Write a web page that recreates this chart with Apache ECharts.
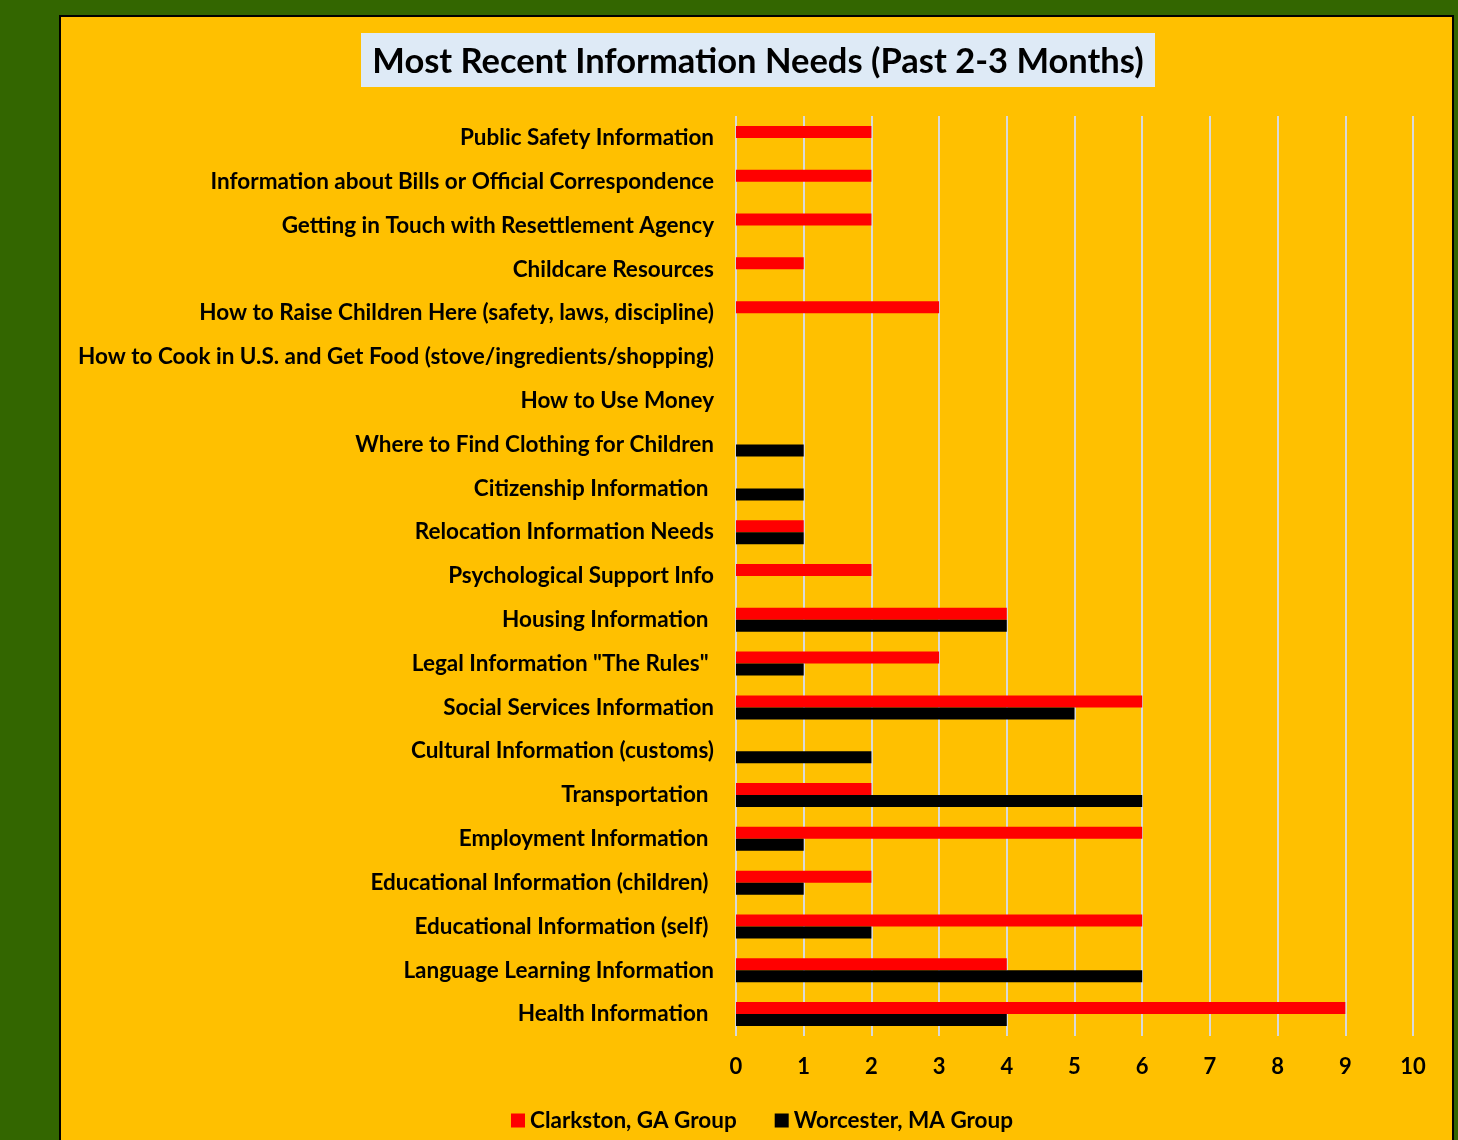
<!DOCTYPE html>
<html>
<head>
<meta charset="utf-8">
<script src="https://cdn.jsdelivr.net/npm/echarts@6/dist/echarts.min.js"></script>
<style>
  html, body { margin: 0; padding: 0; background: #336600; }
  #chart { width: 1458px; height: 1140px; }
</style>
</head>
<body>
<div id="chart"></div>
<script>
// categories listed bottom to top (ECharts category y axis starts at the bottom)
var categories = [
  "Health Information ",
  "Language Learning Information",
  "Educational Information (self) ",
  "Educational Information (children) ",
  "Employment Information ",
  "Transportation ",
  "Cultural Information (customs)",
  "Social Services Information",
  "Legal Information \"The Rules\" ",
  "Housing Information ",
  "Psychological Support Info",
  "Relocation Information Needs",
  "Citizenship Information ",
  "Where to Find Clothing for Children",
  "How to Use Money",
  "How to Cook in U.S. and Get Food (stove/ingredients/shopping)",
  "How to Raise Children Here (safety, laws, discipline)",
  "Childcare Resources",
  "Getting in Touch with Resettlement Agency",
  "Information about Bills or Official Correspondence",
  "Public Safety Information"
];
var clarkston = [9, 4, 6, 2, 6, 2, 0, 6, 3, 4, 2, 1, 0, 0, 0, 0, 3, 1, 2, 2, 2];
var worcester = [4, 6, 2, 1, 1, 6, 2, 5, 1, 4, 0, 1, 1, 1, 0, 0, 0, 0, 0, 0, 0];
var xTicks = [0, 1, 2, 3, 4, 5, 6, 7, 8, 9, 10];

var font = "Lato";
var chart = echarts.init(document.getElementById("chart"));
chart.setOption({
  backgroundColor: "#336600",
  animation: false,
  graphic: [
    {
      type: "rect",
      z: -10,
      shape: { x: 60, y: 16, width: 1393, height: 1140 },
      style: { fill: "#FFC000", stroke: "#000", lineWidth: 2 }
    },
    {
      type: "rect",
      z: -5,
      shape: { x: 361, y: 33, width: 794, height: 54 },
      style: { fill: "#DEEAF6" }
    },
    {
      type: "text",
      x: 758,
      y: 62,
      style: {
        text: "Most Recent Information Needs (Past 2-3 Months)",
        fill: "#000",
        font: "bold 34.5px " + font,
        textAlign: "center",
        textVerticalAlign: "middle"
      }
    }
  ],
  legend: {
    bottom: 3,
    left: 506,
    itemWidth: 14,
    itemHeight: 14,
    itemGap: 38,
    icon: "rect",
    textStyle: { fontFamily: font, fontWeight: "bold", fontSize: 22.5, color: "#000" },
    data: ["Clarkston, GA Group", "Worcester, MA Group"]
  },
  grid: { left: 736, right: 45, top: 116, bottom: 104 },
  xAxis: {
    type: "value",
    min: xTicks[0],
    max: xTicks[xTicks.length - 1],
    interval: 1,
    axisLine: { show: false },
    axisTick: { show: false },
    axisLabel: {
      margin: 20,
      fontFamily: font, fontWeight: "bold", fontSize: 22, color: "#000"
    },
    splitLine: { show: true, lineStyle: { color: "#D9D9D9", width: 2 } }
  },
  yAxis: {
    type: "category",
    data: categories,
    axisLine: { show: false },
    axisTick: { show: false },
    axisLabel: {
      margin: 22,
      fontFamily: font, fontWeight: "bold", fontSize: 22.5, color: "#000"
    }
  },
  series: [
    {
      name: "Clarkston, GA Group",
      type: "bar",
      data: clarkston,
      barWidth: 12,
      barGap: "0%",
      itemStyle: { color: "#FF0000" }
    },
    {
      name: "Worcester, MA Group",
      type: "bar",
      data: worcester,
      barWidth: 12,
      itemStyle: { color: "#000000" }
    }
  ]
});
</script>
</body>
</html>
